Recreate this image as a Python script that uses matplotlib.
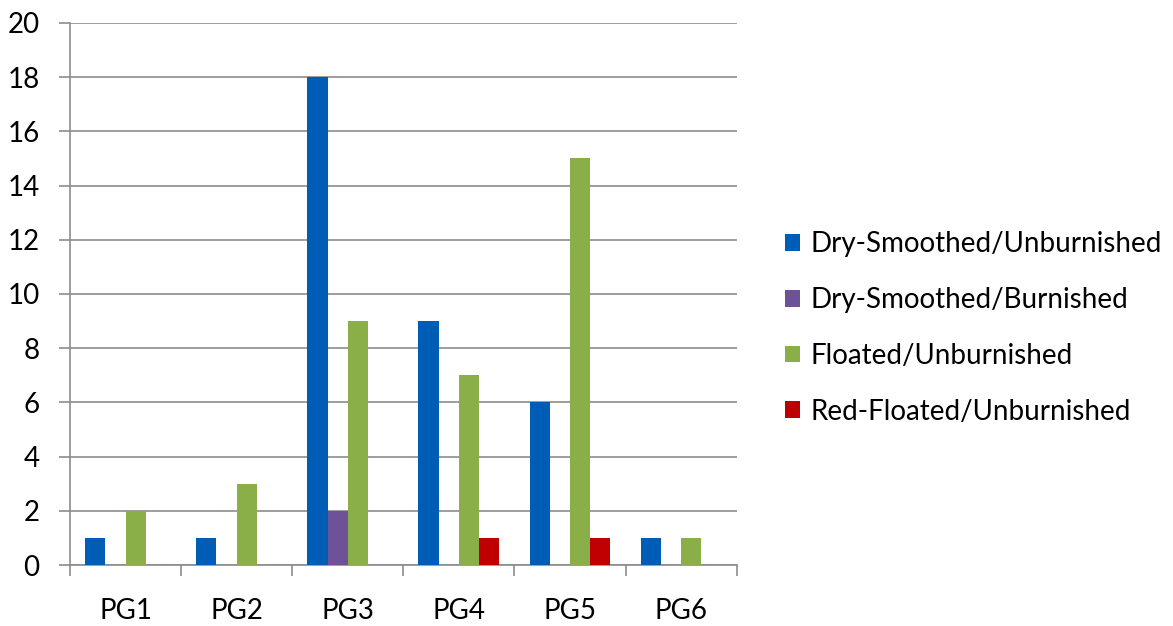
import numpy as np
import matplotlib.pyplot as plt

plt.rcParams['font.family'] = ['Lato', 'DejaVu Sans']

categories = ['PG1', 'PG2', 'PG3', 'PG4', 'PG5', 'PG6']
series_names = ['Dry-Smoothed/Unburnished', 'Dry-Smoothed/Burnished',
                'Floated/Unburnished', 'Red-Floated/Unburnished']
dry_unburnished = [1, 1, 18, 9, 6, 1]
dry_burnished = [0, 0, 2, 0, 0, 0]
floated_unburnished = [2, 3, 9, 7, 15, 1]
red_floated = [0, 0, 0, 1, 1, 0]
colors = ['#005DB5', '#6E5298', '#8AAF49', '#C00000']

fig = plt.figure(figsize=(11.73, 6.26), dpi=100)
ax = fig.add_axes([0.0597, 0.0974, 0.5683, 0.866])

x = np.arange(len(categories))
w = 1 / 5.5
all_series = [dry_unburnished, dry_burnished, floated_unburnished, red_floated]
for i, (vals, name, c) in enumerate(zip(all_series, series_names, colors)):
    ax.bar(x + (i - 1.5) * w, vals, width=w, color=c, label=name, zorder=3)

ax.set_xlim(-0.5, len(categories) - 0.5)
ax.set_ylim(0, 20)
ax.set_yticks(range(0, 21, 2))
ax.grid(axis='y', color='#8c8c8c', linewidth=1.2, zorder=0)

# category labels between boundary ticks
ax.set_xticks(np.arange(-0.5, len(categories)), minor=False)
ax.set_xticklabels([])
ax.set_xticks(x, minor=True)
ax.set_xticklabels(categories, minor=True)
ax.tick_params(axis='x', which='minor', length=0, pad=24, labelsize=20)
ax.tick_params(axis='x', which='major', length=8, color='#8c8c8c', width=1.2)
ax.tick_params(axis='y', length=8, color='#8c8c8c', width=1.2, labelsize=20, pad=14)

for s in ['top', 'right']:
    ax.spines[s].set_visible(False)
for s in ['left', 'bottom']:
    ax.spines[s].set_color('#8c8c8c')
    ax.spines[s].set_linewidth(1.2)

fig.legend(loc='center left', bbox_to_anchor=(0.669, 0.476), frameon=False,
           fontsize=20, handlelength=0.55, handleheight=0.55, handletextpad=0.36,
           labelspacing=1.07, borderpad=0, borderaxespad=0)

plt.savefig('out.png', dpi=100)
